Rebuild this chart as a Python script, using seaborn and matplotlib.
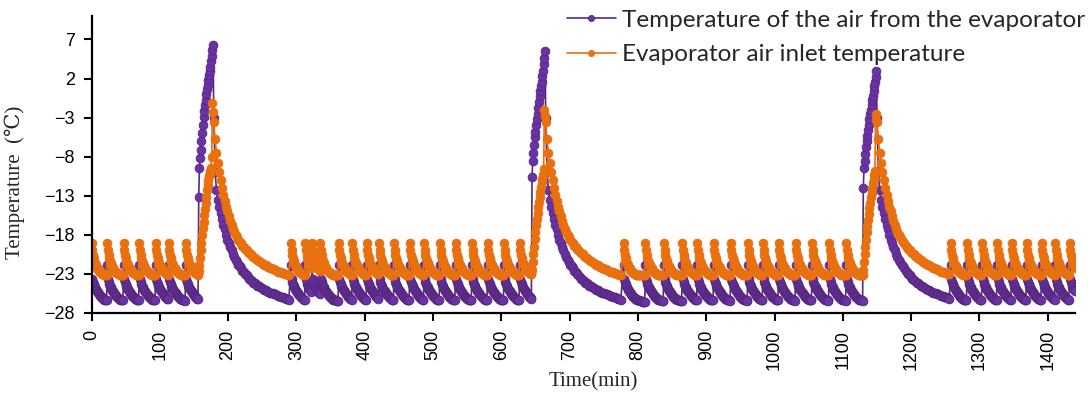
import numpy as np
import pandas as pd
import matplotlib
matplotlib.use("Agg")
import matplotlib.pyplot as plt
import seaborn as sns

# ---------------------------------------------------------------------------
# DATA (1-min sampling, tails every 2 min)
# ---------------------------------------------------------------------------
LABEL_OUT = "Temperature of the air from the evaporator"
LABEL_IN = "Evaporator air inlet temperature"

# compressor cycle start times (min) in each stage between defrosts
STAGE_CYCLES = [
    [0, 23, 47, 70, 94, 113, 138],
    [292, 313, 323, 335, 362, 382, 403, 421, 443, 466, 487, 510, 533, 557,
     580, 604, 627],
    [779, 811, 838, 865, 887, 911, 936, 961, 983, 1006, 1031, 1055, 1080,
     1105],
    [1258, 1282, 1304, 1326, 1347, 1369, 1391, 1411, 1432],
]
DEFROST_START = [157, 645, 1130]
DEFROST_PEAK = [178, 664, 1149]
END_TIME = 1440

# one compressor cycle, minute by minute
CYCLE_OUT = [-21.8, -23.6, -24.0, -24.3, -24.5, -24.7, -24.9, -25.0, -25.2,
             -25.3, -25.4, -25.6, -25.7, -25.8, -25.9, -26.0, -26.1, -26.2,
             -26.2, -26.3, -26.3, -26.4, -26.4, -26.4, -26.5, -26.5, -26.5,
             -26.5, -26.6, -26.6, -26.6, -26.6, -26.6]
CYCLE_IN = [-19.0, -19.9, -20.6, -21.0, -21.3, -21.6, -21.8, -22.0, -22.2,
            -22.3, -22.5, -22.6, -22.7, -22.8, -22.9, -22.9, -23.0, -23.0,
            -23.1, -23.1, -23.1, -23.1, -23.1, -23.2, -23.2, -23.2, -23.2,
            -23.2, -23.2, -23.2, -23.2, -23.2, -23.2]

# defrost heating, start -> peak, minute by minute
DEF_RISE_OUT = [
    [-13.1, -9.5, -8.2, -7.1, -6.0, -5.0, -3.9, -2.9, -2.1, -1.4, -0.7, 0.0,
     0.6, 1.2, 1.8, 2.4, 3.0, 3.5, 4.2, 4.9, 5.6, 6.3],
    [-10.6, -8.5, -7.5, -6.5, -5.5, -4.8, -4.0, -3.2, -2.5, -1.8, -1.0, -0.3,
     0.4, 1.0, 1.6, 2.3, 3.0, 3.8, 4.6, 5.5],
    [-12.0, -9.5, -8.5, -7.6, -6.8, -6.0, -5.3, -4.6, -3.9, -3.2, -2.6, -2.0,
     -1.4, -0.8, -0.2, 0.4, 1.0, 1.6, 2.2, 2.9],
]
DEF_RISE_IN = [
    [-22.6, -21.8, -21.0, -20.0, -19.0, -18.0, -17.1, -16.3, -15.5, -14.7,
     -13.9, -13.1, -12.3, -11.6, -11.0, -10.5, -10.1, -9.8, -9.4, -8.0,
     -1.1, -2.3],
    [-22.5, -21.5, -20.5, -19.5, -18.5, -17.6, -16.8, -16.0, -15.2, -14.5,
     -13.8, -13.1, -12.5, -11.9, -11.3, -10.8, -10.3, -9.6, -2.0, -2.8],
    [-22.5, -21.5, -20.5, -19.5, -18.6, -17.7, -16.9, -16.1, -15.3, -14.6,
     -13.9, -13.2, -12.6, -12.0, -11.4, -10.9, -10.4, -9.8, -2.6, -3.3],
]

# recovery after the defrost peak, every 2 min
TAIL_OUT = [-3.0, -10.0, -12.3, -13.6, -14.5, -15.2, -16.0, -16.7, -17.3,
            -18.0, -18.6, -19.1, -19.6, -20.0, -20.4, -20.8, -21.2, -21.5,
            -21.8, -22.0, -22.3, -22.6, -22.8, -23.0, -23.2, -23.4, -23.6,
            -23.8, -23.9, -24.1, -24.2, -24.3, -24.5, -24.6, -24.7, -24.8,
            -24.9, -25.0, -25.1, -25.2, -25.3, -25.4, -25.4, -25.5, -25.6,
            -25.6, -25.7, -25.8, -25.8, -25.9, -26.0, -26.0, -26.1, -26.2,
            -26.2, -26.3]
TAIL_IN = [-3.5, -5.8, -7.5, -8.8, -10.0, -11.0, -12.0, -12.9, -13.7, -14.4,
           -15.0, -15.6, -16.2, -16.7, -17.2, -17.6, -18.0, -18.3, -18.6,
           -18.9, -19.1, -19.4, -19.6, -19.8, -20.0, -20.2, -20.3, -20.5,
           -20.7, -20.8, -21.0, -21.1, -21.2, -21.4, -21.5, -21.6, -21.7,
           -21.8, -21.9, -22.0, -22.1, -22.2, -22.3, -22.4, -22.4, -22.5,
           -22.6, -22.7, -22.7, -22.8, -22.9, -22.9, -23.0, -23.0, -23.1,
           -23.1]

PURPLE = "#55297E"
PURPLE_FACE = "#6A32A4"
ORANGE = "#E8700E"

# ---------------------------------------------------------------------------
# ASSEMBLE TIME SERIES
# ---------------------------------------------------------------------------
t, out, inn = [], [], []
stage_ends = DEFROST_START + [END_TIME + 1]
for k, starts in enumerate(STAGE_CYCLES):
    for s, e in zip(starts, starts[1:] + [stage_ends[k]]):
        n = min(e - s, len(CYCLE_OUT), len(CYCLE_IN))
        t += list(range(s, s + n))
        out += CYCLE_OUT[:n]
        inn += CYCLE_IN[:n]
    if k < len(DEFROST_START):
        s0, p = DEFROST_START[k], DEFROST_PEAK[k]
        t += list(range(s0, p + 1))
        out += DEF_RISE_OUT[k]
        inn += DEF_RISE_IN[k]
        n_tail = min(len(TAIL_OUT), len(TAIL_IN))
        tail_t = list(range(p + 1, STAGE_CYCLES[k + 1][0], 2))[:n_tail]
        t += tail_t
        out += TAIL_OUT[:len(tail_t)]
        inn += TAIL_IN[:len(tail_t)]

df = pd.DataFrame({"time": t, "out": out, "in": inn})

# ---------------------------------------------------------------------------
# PLOT
# ---------------------------------------------------------------------------
sns.set_style("ticks")
fig = plt.figure(figsize=(10.88, 3.94), dpi=100)
ax = fig.add_axes([0.0841, 0.2056, 0.904, 0.7538])

sns.lineplot(data=df, x="time", y="out", color=PURPLE, marker="o",
             markersize=6.3, markerfacecolor=PURPLE_FACE,
             markeredgecolor=PURPLE, markeredgewidth=0.6, linewidth=1.2,
             estimator=None, sort=False, label=LABEL_OUT, ax=ax)
sns.lineplot(data=df, x="time", y="in", color=ORANGE, marker="o",
             markersize=6.3, markeredgecolor=ORANGE, markeredgewidth=0.6,
             linewidth=1.2, estimator=None, sort=False, label=LABEL_IN, ax=ax)

ax.set_xlim(0, 1440)
ax.set_ylim(-28, 10)
ax.set_xticks(np.arange(0, 1401, 100))
ax.set_yticks(np.arange(-28, 8, 5))
for lab in ax.get_xticklabels() + ax.get_yticklabels():
    lab.set_fontfamily("Liberation Sans")
    lab.set_fontsize(13)
ax.tick_params(axis="x", rotation=90, length=6, width=1.5, pad=6, colors="black")
ax.tick_params(axis="y", length=6, width=1.5, pad=6, colors="black")
for side in ["top", "right"]:
    ax.spines[side].set_visible(False)
for side in ["left", "bottom"]:
    ax.spines[side].set_linewidth(1.6)
    ax.spines[side].set_color("black")

ax.set_xlabel("Time(min)", fontsize=15, family=["Liberation Serif", "DejaVu Serif"])
ax.set_ylabel("Temperature  (℃)", fontsize=15,
              family=["Liberation Serif", "DejaVu Serif"])
ax.yaxis.set_label_coords(-0.068, 0.44)
ax.xaxis.set_label_coords(0.51, -0.2)

ax.legend(loc="upper right", bbox_to_anchor=(0.997, 0.975),
          bbox_transform=fig.transFigure, frameon=False, borderpad=0,
          borderaxespad=0, handlelength=2.0, handletextpad=0.25,
          labelspacing=0.55, markerscale=0.7,
          prop={"family": "Lato", "size": 17.5})

fig.savefig("out.png", dpi=100)
